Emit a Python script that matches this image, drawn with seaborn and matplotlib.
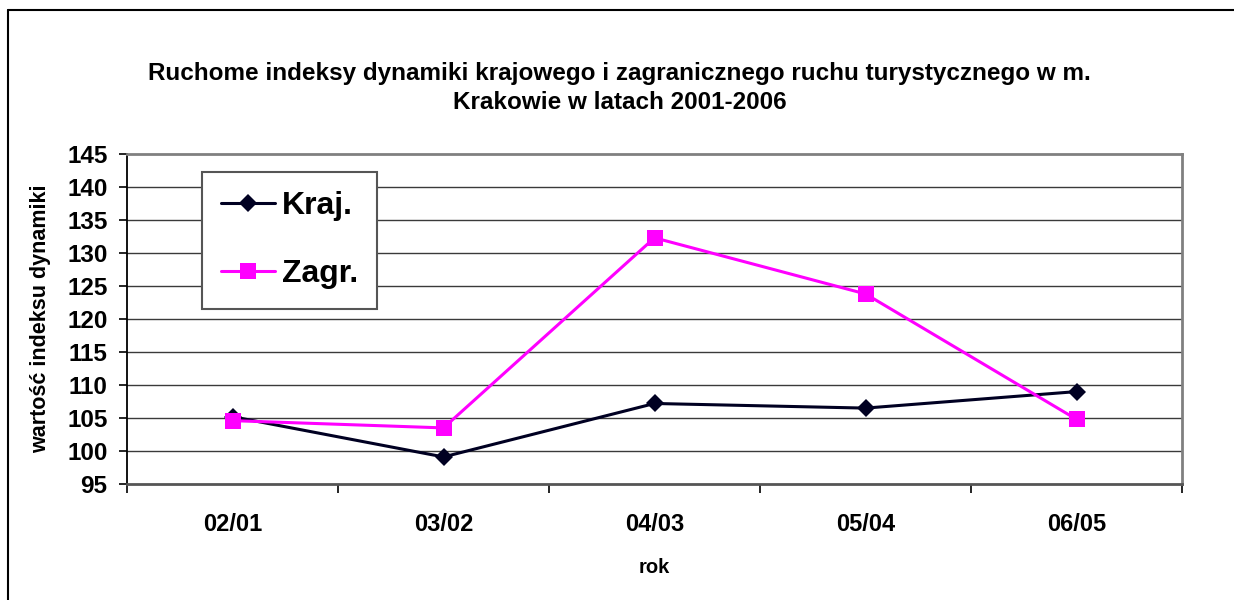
import matplotlib
matplotlib.use("Agg")
import matplotlib.pyplot as plt
from matplotlib.lines import Line2D
import seaborn as sns
import pandas as pd

categories = ["02/01", "03/02", "04/03", "05/04", "06/05"]
kraj = [105.2, 99.1, 107.2, 106.5, 109.0]
zagr = [104.6, 103.5, 132.3, 123.8, 104.8]
series_names = ["Kraj.", "Zagr."]
yticks = [95, 100, 105, 110, 115, 120, 125, 130, 135, 140, 145]

title = "Ruchome indeksy dynamiki krajowego i zagranicznego ruchu turystycznego w m.\nKrakowie w latach 2001-2006"
xlabel = "rok"
ylabel = "wartość indeksu dynamiki"

sns.set_style("white")
plt.rcParams['font.family'] = ['Liberation Sans', 'DejaVu Sans']
plt.rcParams['text.color'] = 'black'
plt.rcParams['axes.labelcolor'] = 'black'
plt.rcParams['xtick.color'] = 'black'
plt.rcParams['ytick.color'] = 'black'

W, H = 1234, 600
fig = plt.figure(figsize=(W / 100, H / 100), dpi=100)
L, R, T, B = 127, 1182, 154, 484
ax = fig.add_axes([L / W, 1 - B / H, (R - L) / W, (B - T) / H])

df = pd.DataFrame({"x": list(range(len(categories))) * 2,
                   "y": kraj + zagr,
                   "s": [series_names[0]] * len(kraj) + [series_names[1]] * len(zagr)})

sns.lineplot(data=df, x="x", y="y", hue="s", style="s",
             palette={series_names[0]: "#000022", series_names[1]: "#FF00FF"},
             markers={series_names[0]: "D", series_names[1]: "s"},
             dashes=False, linewidth=2.2, markersize=10, markeredgewidth=0,
             ax=ax, legend=False, zorder=3)
lines = ax.get_lines()
if len(lines) >= 2:
    lines[0].set_markersize(9.5)
    lines[1].set_markersize(11)

ax.set_xlim(-0.5, len(categories) - 0.5)
ax.set_ylim(95, 145)
ax.set_yticks(yticks)
ax.set_yticklabels([str(v) for v in yticks])
for v in yticks[1:-1]:
    ax.axhline(v, color="#3a3a3a", linewidth=1.0, zorder=1)

ax.set_xticks([i - 0.5 for i in range(len(categories) + 1)])
ax.set_xticklabels([])
ax.set_xticks(list(range(len(categories))), minor=True)
ax.set_xticklabels(categories, minor=True)
ax.tick_params(axis="x", which="major", direction="out", length=6.5, width=1.2, color="black", bottom=True)
ax.tick_params(axis="x", which="minor", length=0, pad=21, labelsize=17, labelcolor="black")
ax.tick_params(axis="y", which="major", direction="out", length=6, width=1.2, color="black", left=True, pad=8, labelsize=17.5, labelcolor="black")
for lab in ax.get_xticklabels(minor=True) + ax.get_yticklabels():
    lab.set_fontweight("bold")

for s in ["top", "right"]:
    ax.spines[s].set_color("#808080")
    ax.spines[s].set_linewidth(2)
ax.spines["left"].set_color("black")
ax.spines["left"].set_linewidth(1.3)
ax.spines["bottom"].set_color("#555555")
ax.spines["bottom"].set_linewidth(2)

ax.set_xlabel(xlabel, fontsize=14.5, fontweight="bold", labelpad=16, color="black")
ax.set_ylabel(ylabel, fontsize=15.5, fontweight="bold", color="black")
ax.yaxis.set_label_coords((51 - L) / (R - L), 0.5)

fig.text(0.502, 1 - 88 / H, title, ha="center", va="center", fontsize=17.5,
         fontweight="bold", linespacing=1.35, color="black")

handles = [Line2D([], [], color="#000022", marker="D", markersize=9.5, linewidth=2.2, markeredgewidth=0),
           Line2D([], [], color="#FF00FF", marker="s", markersize=11, linewidth=2.2, markeredgewidth=0)]
leg = ax.legend(handles, series_names, loc="upper left",
                bbox_to_anchor=((202 - L) / (R - L), (B - 172) / (B - T)),
                borderaxespad=0, frameon=True, fancybox=False, framealpha=1,
                prop={"size": 23, "weight": "bold"}, handlelength=1.7,
                labelspacing=1.2, borderpad=0.6, handletextpad=0.2,
                labelcolor="black")
leg.get_frame().set_edgecolor("#555555")
leg.get_frame().set_linewidth(1.5)
leg.set_zorder(5)

fig.add_artist(Line2D([7.5 / W, 7.5 / W], [0, 1 - 10 / H], color="black", linewidth=1.5, transform=fig.transFigure))
fig.add_artist(Line2D([7.5 / W, 1], [1 - 10 / H, 1 - 10 / H], color="black", linewidth=1.5, transform=fig.transFigure))

fig.savefig("out.png", dpi=100)
